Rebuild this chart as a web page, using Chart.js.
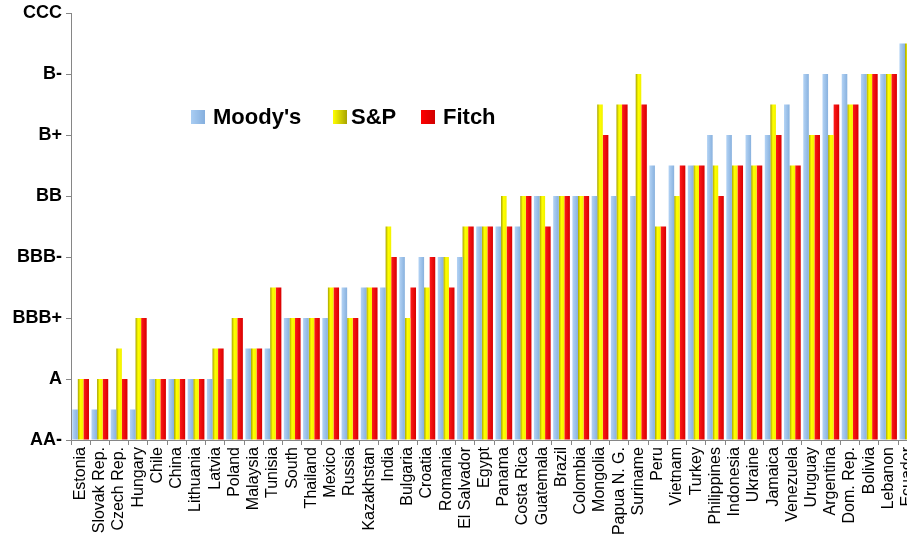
<!DOCTYPE html>
<html>
<head>
<meta charset="utf-8">
<script src="https://cdn.jsdelivr.net/npm/chart.js@4.4.1/dist/chart.umd.min.js"></script>
<style>
  html, body { margin: 0; padding: 0; background: #fff; overflow: hidden; }
  #wrap { position: relative; width: 929px; height: 540px; }
  .legend span { position: absolute; font-family: Arial, "Liberation Sans", sans-serif; font-weight: bold;
                 font-size: 22px; color: #000; top: 104px; line-height: 26px; }
  .legend span.box { width: 14px; height: 14px; top: 110px; }
</style>
</head>
<body>
<div id="wrap">
  <canvas id="ratingsChart" width="929" height="540"></canvas>
  <div class="legend">
    <span class="box" style="left:191px;background:linear-gradient(to right,#a9cdf3,#85afde)"></span>
    <span style="left:213px">Moody's</span>
    <span class="box" style="left:333px;background:linear-gradient(to right,#ffff00,#a8a400)"></span>
    <span style="left:351px">S&amp;P</span>
    <span class="box" style="left:421px;background:linear-gradient(to right,#ff0000,#d00000)"></span>
    <span style="left:443px">Fitch</span>
  </div>
</div>
<script>
const countries = ['Estonia', 'Slovak Rep.', 'Czech Rep.', 'Hungary', 'Chile', 'China', 'Lithuania', 'Latvia',
    'Poland', 'Malaysia', 'Tunisia', 'South', 'Thailand', 'Mexico', 'Russia', 'Kazakhstan', 'India',
    'Bulgaria', 'Croatia', 'Romania', 'El Salvador', 'Egypt', 'Panama', 'Costa Rica', 'Guatemala',
    'Brazil', 'Colombia', 'Mongolia', 'Papua N. G.', 'Suriname', 'Peru', 'Vietnam', 'Turkey',
    'Philippines', 'Indonesia', 'Ukraine', 'Jamaica', 'Venezuela', 'Uruguay', 'Argentina',
    'Dom. Rep.', 'Bolivia', 'Lebanon', 'Ecuador'];

// rating scale, one step per notch; axis labels every second notch
const ratingScale = ['AA-', 'A+', 'A', 'A-', 'BBB+', 'BBB', 'BBB-', 'BB+', 'BB', 'BB-', 'B+', 'B', 'B-', 'CCC+', 'CCC'];

const moodys = ['A+', 'A+', 'A+', 'A+', 'A', 'A', 'A', 'A', 'A', 'A-', 'A-', 'BBB+', 'BBB+', 'BBB+', 'BBB',
    'BBB', 'BBB', 'BBB-', 'BBB-', 'BBB-', 'BBB-', 'BB+', 'BB+', 'BB+', 'BB', 'BB', 'BB', 'BB', 'BB', 'BB',
    'BB-', 'BB-', 'BB-', 'B+', 'B+', 'B+', 'B+', 'B', 'B-', 'B-', 'B-', 'B-', 'B-', 'CCC+'];
const sp = ['A', 'A', 'A-', 'BBB+', 'A', 'A', 'A', 'A-', 'BBB+', 'A-', 'BBB', 'BBB+', 'BBB+', 'BBB', 'BBB+',
    'BBB', 'BB+', 'BBB+', 'BBB', 'BBB-', 'BB+', 'BB+', 'BB', 'BB', 'BB', 'BB', 'BB', 'B', 'B', 'B-',
    'BB+', 'BB', 'BB-', 'BB-', 'BB-', 'BB-', 'B', 'BB-', 'B+', 'B+', 'B', 'B-', 'B-', 'CCC+'];
const fitch = ['A', 'A', 'A', 'BBB+', 'A', 'A', 'A', 'A-', 'BBB+', 'A-', 'BBB', 'BBB+', 'BBB+', 'BBB', 'BBB+',
    'BBB', 'BBB-', 'BBB', 'BBB-', 'BBB', 'BB+', 'BB+', 'BB+', 'BB', 'BB+', 'BB', 'BB', 'B+', 'B', 'B',
    'BB+', 'BB-', 'BB-', 'BB', 'BB-', 'BB-', 'B+', 'BB-', 'B+', 'B', 'B', 'B-', 'B-', 'CCC+'];

const toNotch = r => ratingScale.indexOf(r);

// horizontal gradient per series, like the original bars
const gradStops = [
    [[0, '#b3d3f5'], [1, '#88b1de']],
    [[0, '#a6a200'], [0.45, '#ffff00'], [1, '#f2f200']],
    [[0, '#ff1a1a'], [1, '#d80000']]
];

const barGradients = {
    id: 'barGradients',
    beforeDatasetsDraw(chart) {
        const ctx = chart.ctx;
        chart.data.datasets.forEach((ds, i) => {
            chart.getDatasetMeta(i).data.forEach(bar => {
                const left = bar.x - bar.width / 2;
                const g = ctx.createLinearGradient(left, 0, left + bar.width, 0);
                gradStops[i].forEach(s => g.addColorStop(s[0], s[1]));
                bar.options = Object.assign({}, bar.options, { backgroundColor: g });
            });
        });
    }
};

const axisColor = '#868686';

new Chart(document.getElementById('ratingsChart'), {
    type: 'bar',
    data: {
        labels: countries,
        datasets: [
            { label: "Moody's", data: moodys.map(toNotch), backgroundColor: '#9cc3ec' },
            { label: 'S&P', data: sp.map(toNotch), backgroundColor: '#ffff00' },
            { label: 'Fitch', data: fitch.map(toNotch), backgroundColor: '#ff0000' }
        ]
    },
    options: {
        responsive: false,
        animation: false,
        devicePixelRatio: 1,
        layout: { padding: { top: 2, left: 0, right: 0, bottom: 0 } },
        datasets: { bar: { categoryPercentage: 0.87, barPercentage: 1.0, borderWidth: 0 } },
        plugins: { legend: { display: false }, tooltip: { enabled: false } },
        scales: {
            x: {
                grid: { display: true, drawOnChartArea: false, offset: true, tickLength: 5, color: axisColor },
                border: { color: axisColor },
                ticks: {
                    autoSkip: false, minRotation: 90, maxRotation: 90, padding: 2, color: '#000',
                    font: { family: 'Arial', size: 16 }
                },
                afterFit: s => { s.height = 100; }
            },
            y: {
                min: 0,
                max: 14,
                grid: { drawOnChartArea: false, tickLength: 5, color: axisColor },
                border: { color: axisColor },
                ticks: {
                    stepSize: 2, padding: 4, color: '#000',
                    font: { family: 'Arial', size: 18, weight: 'bold', lineHeight: 1.0 },
                    callback: v => ratingScale[v]
                },
                afterFit: s => { s.width = 71; }
            }
        }
    },
    plugins: [barGradients]
});
</script>
</body>
</html>
